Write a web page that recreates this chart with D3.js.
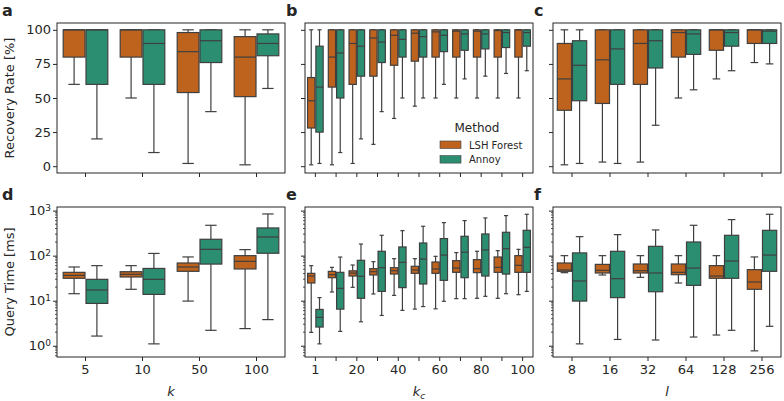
<!DOCTYPE html>
<html><head><meta charset="utf-8">
<script src="https://cdn.jsdelivr.net/npm/d3@7"></script>
<style>body{margin:0;background:#fff}svg text{font-family:"DejaVu Sans",sans-serif;fill:#262626}</style>
</head><body><svg id="c" width="784" height="401"></svg>
<script>
// ---- data: box stats [whislo, q1, median, q3, whishi] ----
const methods = ["LSH Forest", "Annoy"];
const kCats = ["5", "10", "50", "100"];
const kcCats = ["1", "10", "20", "30", "40", "50", "60", "70", "80", "90", "100"];
const kcTickLabels = ["1", "", "20", "", "40", "", "60", "", "80", "", "100"];
const lCats = ["8", "16", "32", "64", "128", "256"];
const rateTicks = [0, 25, 50, 75, 100];
const timeTicks = [1, 10, 100, 1000];

const recK_LSH = [[60,80,100,100,100],[50,80,100,100,100],[2,54,84,98,100],[1,51,80,95,100]];
const recK_Annoy = [[20,60,100,100,100],[10,60,90,100,100],[40,76,92,100,100],[57,81,90,97,100]];
const recKc_LSH = [[1,28,48,65,100],[1,58,80,100,100],[2,60,90,100,100],[16,66,94,100,100],[35,74,96,100,100],[44,77,97.5,100,100],[50,80,98.5,100,100],[50,80,99,100,100],[50,80,99,100,100],[50,80,99.5,100,100],[50,80,100,100,100]];
const recKc_Annoy = [[2,25,58,88,100],[10,50,83,100,100],[20,66,88,100,100],[40,76,91,100,100],[50,80,93,100,100],[50,80,95,100,100],[60,84,96,100,100],[64,85,97,100,100],[66,86,97,100,100],[68,87,98,100,100],[70,88,98,100,100]];
const recL_LSH = [[1,41,64,90,100],[3,46,78,100,100],[3,60,90,100,100],[50,80,98,100,100],[64,85,100,100,100],[76,90,100,100,100]];
const recL_Annoy = [[2,48,74,92,100],[2,60,86,100,100],[30,72,92,100,100],[56,82,97,100,100],[70,88,98,100,100],[75,90,99,100,100]];

const timeK_LSH = [[14.3,31.4,36.5,42.6,56],[17.9,33.6,38.5,44,60],[9.8,44.9,56,68.7,93.6],[2.4,50.6,74.8,100,136]];
const timeK_Annoy = [[1.64,8.7,17.3,29.8,60],[1.1,13.8,29.8,52,112],[2.2,65,138,231,472],[3.8,113,260,412,843]];
const timeKc_LSH = [[1.98,24.7,35.3,40.5,60],[15.6,32.4,37.8,44.8,55],[19.8,35.3,41,46,62],[14.1,37.2,44,51.4,73.6],[13.1,39.1,46.4,54,85.8],[6.5,40.5,48,58,85.8],[6.6,40.5,50.6,72.3,96.6],[11.1,42.6,53,77.4,117],[11.3,41.9,51.4,81.5,125],[11.3,42.6,55,93.4,129],[13.6,42.6,61,100,138]];
const timeKc_Annoy = [[1.1,2.6,4.26,6.4,11.7],[2.08,6.5,18.8,42.6,93],[3.4,11.3,34.8,78.8,181],[4.7,16.1,54,125,283],[6.1,19.5,71,156,359],[7.4,23.5,84,191,449],[9.7,28.3,103,239,541],[11.1,32.4,119,269,600],[12.5,35.3,134,303,687],[14.3,39,143,330,774],[16.1,42.6,153,365,829]];
const timeL_LSH = [[41.9,44.9,48,68.7,100],[37.2,41.2,47.2,64,100],[33,41.2,46.4,65.3,100],[24.7,37.8,42.6,65.3,100],[1.73,31.4,35.3,60,100],[0.77,17.9,26,48.9,93.6]];
const timeL_Annoy = [[1.1,9.8,27.4,115,264],[1.38,11.7,30.8,125,293],[1.34,15.8,41.2,161,372],[1.56,21.9,53,201,472],[2.2,31.4,76,283,631],[2.7,44.9,103,365,829]];

// ---- style ----
const colors = ["#be631d", "#2b8e70"];
const edge = "#3f3f3f";
const svg = d3.select("#c");

const cols = [[57, 285], [305, 533], [553, 781]];
const rows = [[23, 173], [207, 357]];

const panels = [
  {r:0,c:0,letter:"a",cats:kCats,labels:kCats,data:[recK_LSH,recK_Annoy],log:false},
  {r:0,c:1,letter:"b",cats:kcCats,labels:kcTickLabels,data:[recKc_LSH,recKc_Annoy],log:false},
  {r:0,c:2,letter:"c",cats:lCats,labels:lCats,data:[recL_LSH,recL_Annoy],log:false},
  {r:1,c:0,letter:"d",cats:kCats,labels:kCats,data:[timeK_LSH,timeK_Annoy],log:true},
  {r:1,c:1,letter:"e",cats:kcCats,labels:kcTickLabels,data:[timeKc_LSH,timeKc_Annoy],log:true},
  {r:1,c:2,letter:"f",cats:lCats,labels:lCats,data:[timeL_LSH,timeL_Annoy],log:true},
];

panels.forEach(p => {
  const [x0, x1] = cols[p.c], [y0, y1] = rows[p.r];
  const x = d3.scaleBand().domain(p.cats).range([x0, x1]).padding(0);
  const hue = d3.scaleBand().domain(methods).range([0, x.bandwidth() * 0.8]);
  const y = p.log ? d3.scaleLog().domain([Math.pow(10, -0.25), Math.pow(10, 3.08)]).range([y1, y0])
                  : d3.scaleLinear().domain([-5, 105]).range([y1, y0]);
  const g = svg.append("g");

  // boxes
  methods.forEach((m, mi) => {
    p.data[mi].forEach((s, ci) => {
      const bx = x(p.cats[ci]) + x.bandwidth() * 0.1 + hue(m);
      const bw = hue.bandwidth();
      const cx = bx + bw / 2;
      const [lo, q1, md, q3, hi] = s;
      const gg = g.append("g");
      gg.append("line").attr("x1", cx).attr("x2", cx).attr("y1", y(q1)).attr("y2", y(lo))
        .attr("stroke", edge).attr("stroke-width", 1.2);
      gg.append("line").attr("x1", cx).attr("x2", cx).attr("y1", y(q3)).attr("y2", y(hi))
        .attr("stroke", edge).attr("stroke-width", 1.2);
      [lo, hi].forEach(v => gg.append("line").attr("x1", cx - bw / 4).attr("x2", cx + bw / 4)
        .attr("y1", y(v)).attr("y2", y(v)).attr("stroke", edge).attr("stroke-width", 1.2));
      gg.append("rect").attr("x", bx + 0.5).attr("width", bw - 1)
        .attr("y", y(q3)).attr("height", Math.max(0, y(q1) - y(q3)))
        .attr("fill", colors[mi]).attr("stroke", edge).attr("stroke-width", 1.2);
      gg.append("line").attr("x1", bx + 0.5).attr("x2", bx + bw - 0.5).attr("y1", y(md)).attr("y2", y(md))
        .attr("stroke", edge).attr("stroke-width", 1.2);
    });
  });

  // frame
  g.append("rect").attr("x", x0).attr("y", y0).attr("width", x1 - x0).attr("height", y1 - y0)
    .attr("fill", "none").attr("stroke", "#262626").attr("stroke-width", 1);

  // x axis ticks
  const xa = d3.axisBottom(x).tickSize(4).tickPadding(4)
    .tickFormat((d, i) => p.r === 1 ? p.labels[i] : "");
  const xg = svg.append("g").attr("transform", `translate(0,${y1})`).call(xa);
  xg.select(".domain").remove();
  xg.selectAll("line").attr("stroke", "#262626");
  xg.selectAll("text").attr("font-size", 13).attr("fill", "#262626");

  // y axis
  const ya = d3.axisLeft(y).tickSize(4).tickPadding(3);
  if (p.log) ya.tickValues(timeTicks); else ya.tickValues(rateTicks);
  ya.tickFormat(() => "");
  const yg = svg.append("g").attr("transform", `translate(${x0},0)`).call(ya);
  yg.select(".domain").remove();
  yg.selectAll("line").attr("stroke", "#262626");
  if (p.log) {
    const minors = [];
    for (let e = -1; e <= 3; e++) for (let k = 2; k <= 9; k++) {
      const v = k * Math.pow(10, e);
      if (v >= y.domain()[0] && v <= y.domain()[1]) minors.push(v);
    }
    svg.append("g").selectAll("line").data(minors).join("line")
      .attr("x1", x0 - 2).attr("x2", x0).attr("y1", d => y(d)).attr("y2", d => y(d))
      .attr("stroke", "#262626").attr("stroke-width", 0.8);
  }
  if (p.c === 0) {
    const lab = svg.append("g");
    (p.log ? timeTicks : rateTicks).forEach(v => {
      const t = lab.append("text").attr("x", x0 - 6).attr("y", y(v)).attr("dy", "0.35em")
        .attr("text-anchor", "end").attr("font-size", 13);
      if (p.log) {
        t.append("tspan").text("10");
        t.append("tspan").attr("dy", "-0.45em").attr("font-size", 9).text(String(Math.round(Math.log10(v))));
      } else t.text(v);
    });
    svg.append("text").attr("transform", `translate(14,${(y0 + y1) / 2}) rotate(-90)`)
      .attr("text-anchor", "middle").attr("font-size", 13)
      .text(p.log ? "Query Time [ms]" : "Recovery Rate [%]");
  }

  // panel letter
  svg.append("text").attr("x", p.c === 0 ? 2 : x0 - 19).attr("y", y0 - 7)
    .attr("font-size", 16).attr("font-weight", "bold").text(p.letter);
});

// x axis titles
const xt = svg.append("g").attr("font-size", 13);
xt.append("text").attr("x", 171).attr("y", 396).attr("text-anchor", "middle")
  .attr("font-style", "italic").attr("font-size", 13).text("k");
const kc = xt.append("text").attr("x", 419).attr("y", 396).attr("text-anchor", "middle").attr("font-size", 13);
kc.append("tspan").attr("font-style", "italic").text("k");
kc.append("tspan").attr("font-style", "italic").attr("font-size", 9).attr("dy", "0.3em").text("c");
xt.append("text").attr("x", 667).attr("y", 396).attr("text-anchor", "middle")
  .attr("font-style", "italic").attr("font-size", 13).text("l");

// legend
const lg = svg.append("g");
lg.append("text").attr("x", 477).attr("y", 132).attr("text-anchor", "middle").attr("font-size", 12).text("Method");
methods.forEach((m, i) => {
  const yy = 141 + i * 14.6;
  lg.append("rect").attr("x", 440).attr("y", yy).attr("width", 21).attr("height", 7.5)
    .attr("fill", colors[i]).attr("stroke", edge).attr("stroke-width", 0.6);
  lg.append("text").attr("x", 469).attr("y", yy + 4).attr("dy", "0.35em").attr("font-size", 10).text(m);
});
</script></body></html>
